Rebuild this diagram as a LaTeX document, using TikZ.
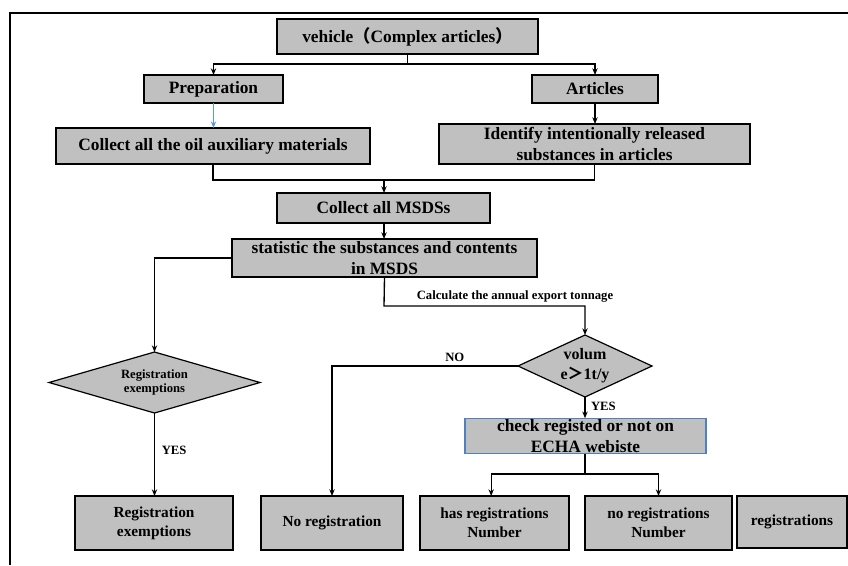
\documentclass[tikz,border=0pt]{standalone}
\usepackage{fontspec}
\setmainfont{Liberation Serif}
\newfontfamily\cjk{Noto Sans CJK SC}
\usetikzlibrary{positioning,shapes.geometric,arrows.meta}
\usepackage{xcolor}
\definecolor{boxbg}{HTML}{C0C0C0}
\definecolor{checkline}{HTML}{4F81BD}
\definecolor{bluearrow}{HTML}{5B9BD5}

\begin{document}
\begin{tikzpicture}[
    x=0.75pt, y=-0.75pt,
 mybox/.style = {
        draw, rectangle, align=center, fill=boxbg,
        line width=1.3pt, inner sep=1pt, outer sep=0pt,
        font=\bfseries\fontsize{13}{15.5}\selectfont},
 mybottom/.style = {
        mybox, minimum height=40.5pt,
        font=\bfseries\fontsize{11.5}{14}\selectfont},
 decision/.style = {
        draw, diamond, fill=boxbg, line width=0.9pt,
        inner sep=0pt, outer sep=0pt},
 smalltext/.style = {
        font=\bfseries\fontsize{9.5}{10.5}\selectfont, inner sep=1pt},
 arrow/.style = {line width=1pt,-{Stealth[length=5pt,width=4pt]}},
 plain/.style = {line width=1pt}
                    ]
\useasboundingbox (0,0) rectangle (848,565);
% the frame
\draw[line width=1.3pt] (848,13) -| (10,565);

% the upper part
\node (top)   [mybox, minimum width=195.75pt, minimum height=26.25pt] at (407.5,36.5)
                {vehicle{\cjk （}Complex articles{\cjk ）}};
\node (prep)  [mybox, minimum width=104.25pt, minimum height=21pt] at (213.5,89) {Preparation};
\node (art)   [mybox, minimum width=94.5pt, minimum height=21pt] at (595,89) {Articles};
\node (oil)   [mybox, minimum width=235.5pt, minimum height=27pt] at (213,146)
                {Collect all the oil auxiliary materials};
\node (ident) [mybox, minimum width=233.25pt, minimum height=30pt] at (594.5,144)
                {Identify intentionally released\\substances in articles};
\node (msds)  [mybox, minimum width=159.75pt, minimum height=22.5pt] at (383.5,208)
                {Collect all MSDSs};
\node (stat)  [mybox, minimum width=228.75pt, minimum height=28.5pt] at (384.5,258)
                {statistic the substances and contents\\in MSDS};

% the decisions
\node (exempt) [decision, minimum width=158.25pt, minimum height=45.75pt] at (154.5,382.5) {};
\node (exempttext) [smalltext, align=center] at (exempt) {Registration\\exemptions};
\node (vol)   [decision, minimum width=100.5pt, minimum height=46.5pt] at (585,366) {};
\node (voltext) [align=center, inner sep=0pt, font=\bfseries\fontsize{12}{15}\selectfont]
                at (vol) {volum\\e{\cjk ＞}1t/y};
\node (check) [mybox, draw=checkline, line width=0.9pt, minimum width=180.75pt,
               minimum height=25.5pt] at (585.5,436) {check registed or not on\\ECHA webiste};

% the nodes at the bottom
\node (b1) [mybottom, minimum width=118.5pt] at (154,523) {Registration\\exemptions};
\node (b2) [mybottom, minimum width=106.5pt] at (332,523) {No registration};
\node (b3) [mybottom, minimum width=111.75pt] at (494.5,523) {has registrations\\Number};
\node (b4) [mybottom, minimum width=110.25pt] at (658.5,523) {no registrations\\Number};
\node (b5) [mybottom, minimum width=82.5pt, minimum height=39pt] at (792,522) {registrations};

% connectors
\coordinate (split1) at (407.5,64);
\draw[plain] (top.south) -- (split1);
\draw[arrow] (split1) -| (prep.north);
\draw[arrow] (split1) -| (art.north);
\draw[arrow, bluearrow] (prep.south) -- (prep.south |- oil.north);
\draw[arrow] (art.south) -- (art.south |- ident.north);
\coordinate (merge) at (384,180);
\draw[plain] (oil.south) |- (merge);
\draw[plain] (ident.south) |- (merge);
\draw[arrow] (merge) -- (merge |- msds.north);
\draw[arrow] (msds.south -| merge) -- (stat.north -| merge);
\coordinate (calc) at (384,306);
\draw[arrow] (stat.south) -- (calc) -| (vol.north);
\node (calclabel) [smalltext] at (515,296) {Calculate the annual export tonnage};
\draw[arrow] (stat.west) -| (exempt.north);
\draw[arrow] (exempt.south) -- (b1.north -| exempt.south)
    node[smalltext, right=4pt, pos=0.45] {YES};
\draw[arrow] (vol.west) -| (b2.north)
    node[smalltext, above=2pt, pos=0.17] {NO};
\draw[arrow] (vol.south) -- (check.north -| vol.south)
    node[smalltext, right=3pt, pos=0.45] {YES};
\coordinate (split2) at (585,474);
\draw[plain] (check.south -| split2) -- (split2);
\draw[arrow] (split2) -| ([xshift=-2.5pt]b3.north);
\draw[arrow] (split2) -| (b4.north);
\end{tikzpicture}
\end{document}
